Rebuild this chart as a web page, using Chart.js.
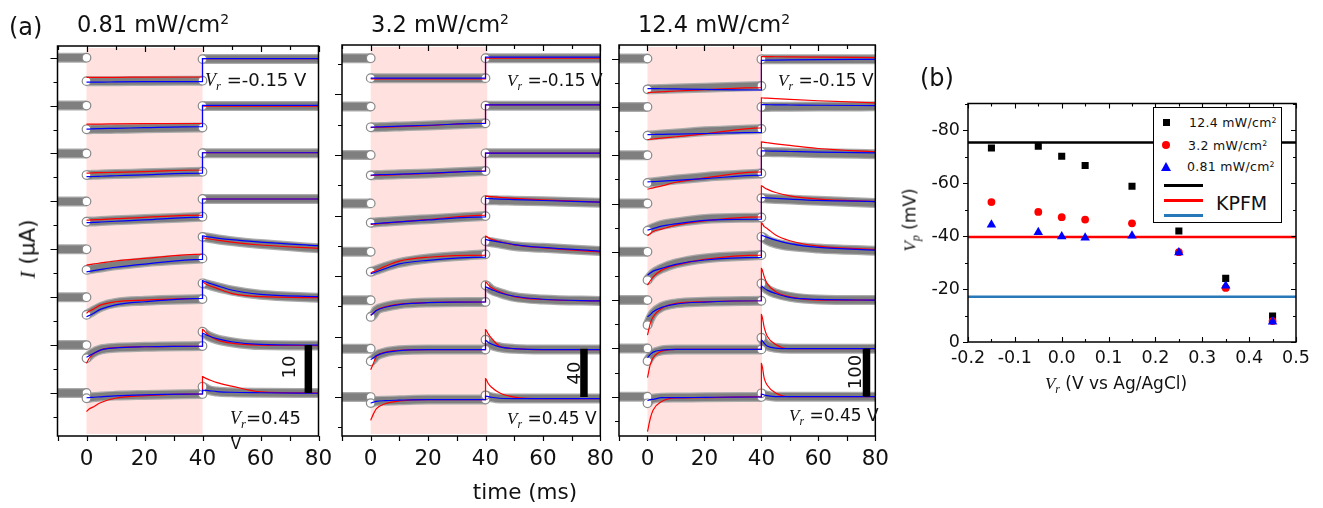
<!DOCTYPE html>
<html>
<head>
<meta charset="utf-8">
<script src="https://cdn.jsdelivr.net/npm/chart.js@4.4.0/dist/chart.umd.min.js"></script>
<style>
body{margin:0;background:#fff;width:1323px;height:508px;overflow:hidden;position:relative;font-family:'DejaVu Sans',sans-serif;color:#111}
canvas{position:absolute}
.t{position:absolute;white-space:nowrap;line-height:1}
.c{transform:translate(-50%,-50%)}
.l{transform:translate(0,-50%)}
.rot{transform:translate(-50%,-50%) rotate(-90deg)}
.iv{font-family:'Liberation Serif',serif;font-style:italic}
.sb{font-family:'Liberation Serif',serif;font-style:italic;font-size:.7em;position:relative;top:.35em}
.sp{font-size:.62em;position:relative;top:-.55em}
#leg{position:absolute;left:1153px;top:107px;width:127px;height:114px;border:1px solid #000;background:#fff}
#leg div{position:absolute}
.lt{font-size:12.5px;line-height:1;transform:translate(0,-50%);white-space:nowrap;letter-spacing:.3px}
</style>
</head>
<body>
<canvas id="c1" width="320" height="480" style="left:20px;top:0"></canvas>
<canvas id="c2" width="295" height="480" style="left:325px;top:0"></canvas>
<canvas id="c3" width="290" height="480" style="left:605px;top:0"></canvas>
<canvas id="cb" width="428" height="290" style="left:895px;top:90px"></canvas>

<div class="t l" style="left:9px;top:27px;font-size:24px">(a)</div>
<div class="t c" style="left:153px;top:24px;font-size:22.5px">0.81 mW/cm<span class="sp">2</span></div>
<div class="t c" style="left:440px;top:24px;font-size:22.5px">3.2 mW/cm<span class="sp">2</span></div>
<div class="t c" style="left:714px;top:24px;font-size:22.5px">12.4 mW/cm<span class="sp">2</span></div>
<div class="t rot" style="left:28px;top:249px;font-size:21.5px"><span class="iv">I</span> (µA)</div>
<div class="t c" style="left:525px;top:492px;font-size:21.5px">time (ms)</div>

<div class="t l" style="left:205px;top:80px;font-size:18px"><span class="iv">V</span><span class="sb">r</span> =-0.15 V</div>
<div class="t l" style="left:230px;top:418px;font-size:18px"><span class="iv">V</span><span class="sb">r</span>=0.45</div>
<div class="t c" style="left:236px;top:444px;font-size:15px">V</div>
<div class="t l" style="left:507px;top:80px;font-size:17px"><span class="iv">V</span><span class="sb">r</span> =-0.15 V</div>
<div class="t l" style="left:507px;top:418px;font-size:17px"><span class="iv">V</span><span class="sb">r</span> =0.45 V</div>
<div class="t l" style="left:778px;top:80px;font-size:17px"><span class="iv">V</span><span class="sb">r</span> =-0.15 V</div>
<div class="t l" style="left:789px;top:415px;font-size:17px"><span class="iv">V</span><span class="sb">r</span> =0.45 V</div>

<div class="t rot" style="left:289px;top:367px;font-size:18px">10</div>
<div class="t rot" style="left:574px;top:373px;font-size:18px">40</div>
<div class="t rot" style="left:855px;top:372px;font-size:18px">100</div>

<div class="t l" style="left:920px;top:78px;font-size:24px">(b)</div>
<div class="t rot" style="left:910px;top:220px;font-size:17px"><span class="iv">V</span><span class="sb">p</span> (mV)</div>
<div class="t c" style="left:1116px;top:383px;font-size:17px"><span class="iv">V</span><span class="sb">r</span> (V vs Ag/AgCl)</div>

<div id="leg">
  <div style="left:9px;top:11px;width:7px;height:7px;background:#000"></div>
  <div class="lt" style="left:35px;top:15px">12.4 mW/cm<span class="sp">2</span></div>
  <div style="left:8px;top:33px;width:8px;height:8px;border-radius:50%;background:#f00"></div>
  <div class="lt" style="left:34px;top:38px">3.2 mW/cm<span class="sp">2</span></div>
  <div style="left:7px;top:54px;width:0;height:0;border-left:5px solid transparent;border-right:5px solid transparent;border-bottom:9px solid #00f"></div>
  <div class="lt" style="left:33px;top:59px">0.81 mW/cm<span class="sp">2</span></div>
  <div style="left:10px;top:76px;width:39px;height:3px;background:#000"></div>
  <div style="left:10px;top:91px;width:39px;height:3px;background:#f00"></div>
  <div class="lt" style="left:62px;top:95px;font-size:19px;letter-spacing:0">KPFM</div>
  <div style="left:10px;top:106px;width:39px;height:3px;background:#2678b8"></div>
</div>

<script>
// sample times (ms)
var PRE_T = [-10, 0];
var LIGHT_T = [0, 1, 2, 5, 10, 20, 40];
var POST_T = [40, 41, 42, 45, 50, 60, 80];

// trace order: Vr = -0.15, -0.05, 0, 0.05, 0.15, 0.25, 0.35, 0.45 (top to bottom)
var STEP = [10, 40, 100];          // offset between traces (µA)
var BAR = [10, 40, 100];           // scale bar length (µA)
var BAR_T = [76.5, 74.3, 76.9];
var LIGHT_END = [40, 40.6, 40.2];
var Y_MIN = [-8.98, -32.2, -81.4];
var Y_MAX = [72.44, 290.9, 728.2];

// each row: 7 values during light (LIGHT_T) then 7 after (POST_T), relative to the trace baseline
var p1Data = [
  [-4.9,-4.9,-4.9,-4.9,-4.9,-4.85,-4.8, -0.3,-0.3,-0.3,-0.3,-0.3,-0.3,-0.3],
  [-4.95,-4.95,-4.9,-4.9,-4.85,-4.75,-4.6, -0.1,-0.1,-0.1,-0.1,-0.1,-0.1,-0.1],
  [-4.5,-4.5,-4.45,-4.4,-4.3,-4.15,-3.8, 0.05,0.05,0.05,0.05,0.05,0.05,0.05],
  [-4.25,-4.2,-4.2,-4.1,-3.95,-3.7,-3.2, 0.5,0.5,0.5,0.5,0.5,0.5,0.5],
  [-4.3,-4.2,-4.1,-3.8,-3.35,-2.7,-1.9, 2.6,2.5,2.4,2.1,1.7,1.1,0.2],
  [-3.7,-3.35,-3.0,-2.0,-1.2,-0.75,-0.4, 2.9,2.75,2.6,2.1,1.4,0.5,-0.1],
  [-2.75,-2.2,-1.7,-0.9,-0.55,-0.35,-0.2, 2.8,2.3,1.9,1.2,0.6,0.0,-0.1],
  [-1.1,-1.0,-0.9,-0.75,-0.55,-0.4,-0.2, 1.3,1.0,0.65,0.3,0.15,0.05,0]
];
var p1Red = [
  [-4.1,-4.1,-4.1,-4.1,-4.1,-4.05,-4.0, -0.2,-0.2,-0.2,-0.2,-0.2,-0.2,-0.2],
  [-3.85,-3.85,-3.85,-3.85,-3.8,-3.75,-3.7, -0.1,-0.1,-0.1,-0.1,-0.1,-0.1,-0.1],
  [-4.1,-4.1,-4.05,-4.0,-3.95,-3.8,-3.45, 0.15,0.15,0.15,0.15,0.15,0.15,0.15],
  [-3.9,-3.9,-3.85,-3.8,-3.6,-3.35,-2.85, 0.5,0.5,0.5,0.5,0.5,0.5,0.5],
  [-3.3,-3.2,-3.1,-2.85,-2.45,-1.9,-1.0, 2.4,2.3,2.2,1.9,1.5,0.9,0.2],
  [-3.35,-2.9,-2.6,-1.6,-0.95,-0.6,-0.25, 3.25,2.8,2.5,1.85,0.8,0.1,-0.1],
  [-3.8,-2.7,-2.05,-1.0,-0.55,-0.35,-0.2, 3.3,2.7,2.1,1.1,0.4,0.0,-0.1],
  [-3.9,-3.3,-3.0,-2.0,-1.1,-0.55,-0.2, 3.4,3.1,2.85,2.15,1.45,0.25,0]
];
var p1Blue = [
  [-5.1,-5.1,-5.1,-5.1,-5.05,-5.0,-5.0, -0.2,-0.2,-0.2,-0.2,-0.2,-0.2,-0.2],
  [-4.9,-4.9,-4.85,-4.8,-4.75,-4.6,-4.4, 0.05,0.05,0.05,0.05,0.05,0.05,0.05],
  [-4.85,-4.85,-4.8,-4.75,-4.65,-4.45,-4.1, 0.15,0.15,0.15,0.15,0.15,0.15,0.15],
  [-4.45,-4.45,-4.4,-4.3,-4.15,-3.85,-3.3, 0.5,0.5,0.5,0.5,0.5,0.5,0.5],
  [-4.7,-4.6,-4.5,-4.2,-3.75,-3.1,-2.1, 2.8,2.7,2.6,2.35,2.0,1.5,0.75],
  [-4.1,-3.8,-3.5,-2.5,-1.6,-0.95,-0.25, 3.45,3.2,3.0,2.4,1.5,0.6,0.1],
  [-2.55,-2.2,-1.85,-1.0,-0.6,-0.35,-0.2, 2.45,2.2,1.95,1.35,0.7,0.15,0],
  [-1.0,-0.95,-0.9,-0.8,-0.6,-0.4,-0.2, 0.6,0.55,0.5,0.3,0.15,0.05,-0.05]
];

var p2Data = [
  [-16.5,-16.5,-16.5,-16.5,-16.5,-16.5,-16.5, 0,0,0,0,0,0,0],
  [-17.1,-17.0,-17.0,-16.8,-16.4,-15.6,-13.8, 0.8,0.8,0.8,0.8,0.8,0.8,0.8],
  [-16.8,-16.7,-16.6,-16.4,-16.0,-15.2,-13.2, 1.4,1.4,1.4,1.4,1.4,1.4,1.4],
  [-16.0,-15.8,-15.6,-15.1,-14.3,-13.0,-10.5, 2.7,2.7,2.6,2.5,2.2,1.7,0.5],
  [-16.5,-15.8,-15.0,-12.5,-9.1,-5.5,-2.1, 8.8,8.3,7.9,6.8,4.7,3.3,0.6],
  [-13.8,-11.8,-8.3,-5.5,-3.3,-1.9,-1.4, 12.4,11.0,8.8,6.0,2.7,0.6,-0.6],
  [-10.5,-8.5,-5.8,-3.1,-1.4,-0.8,-0.8, 7.4,5.5,3.3,1.1,-0.2,-0.8,-0.8],
  [-5.0,-4.0,-3.3,-3.0,-2.7,-2.1,-2.1, 1.4,0.5,-0.2,-1.3,-1.3,-1.3,-1.3]
];
var p2Red = [
  [-17.1,-17.1,-17.1,-17.1,-17.1,-17.1,-17.1, 0,0,0,0,0,0,0],
  [-17.3,-17.2,-17.2,-17.0,-16.6,-15.7,-13.6, 1.4,1.4,1.4,1.4,1.4,1.4,1.4],
  [-17.0,-16.9,-16.8,-16.6,-16.2,-15.3,-13.0, 1.6,1.6,1.6,1.6,1.6,1.6,1.6],
  [-17.4,-17.2,-17.0,-16.3,-15.2,-13.3,-9.7, 6.0,5.8,5.6,5.0,4.2,3.0,1.1],
  [-17.4,-16.4,-15.3,-12.0,-7.7,-4.5,-2.7, 13.0,11.6,10.5,8.3,5.8,3.3,-0.2],
  [-12.4,-10.5,-8.3,-5.5,-3.3,-1.9,-1.4, 15.1,12.7,10.5,7.0,3.0,0.6,-0.6],
  [-17.4,-11.8,-6.4,-3.1,-1.4,-0.8,-0.8, 15.7,12.0,8.8,1.9,0,-0.8,-0.8],
  [-19.3,-13.7,-9.6,-5.5,-3.3,-2.1,-2.1, 15.2,11.0,8.3,3.3,0,-1.3,-1.3]
];
var p2Blue = [
  [-16.5,-16.5,-16.5,-16.5,-16.5,-16.5,-16.5, 0.8,0.8,0.8,0.8,0.8,0.8,0.8],
  [-16.9,-16.9,-16.8,-16.6,-16.2,-15.4,-13.9, 1.4,1.4,1.4,1.4,1.4,1.4,1.4],
  [-16.6,-16.5,-16.4,-16.2,-15.8,-15.0,-13.3, 1.6,1.6,1.6,1.6,1.6,1.6,1.6],
  [-16.9,-16.8,-16.6,-16.1,-15.2,-13.6,-11.1, 4.1,4.0,3.9,3.6,3.2,2.4,1.1],
  [-18.2,-17.4,-16.5,-14.0,-9.9,-7.0,-4.4, 10.2,9.7,9.3,8.0,6.0,3.6,0.6],
  [-12.4,-10.5,-8.5,-5.8,-3.6,-2.0,-1.4, 11.0,10.0,9.0,6.2,3.3,0.8,-0.6],
  [-9.1,-7.5,-5.8,-3.3,-1.6,-0.8,-0.8, 6.9,5.0,3.9,1.4,0,-0.8,-0.8],
  [-5.0,-4.2,-3.6,-3.0,-2.6,-2.1,-2.1, 0.8,0.3,-0.2,-1.0,-1.3,-1.3,-1.3]
];

var p3Data = [
  [-63.6,-63.4,-63.2,-62.7,-61.9,-60.2,-56.7, -1.4,-1.4,-1.4,-1.4,-1.4,-1.4,-1.4],
  [-59.4,-59.0,-58.5,-57.2,-55.0,-50.5,-45.5, 0,0,0,0.2,0.4,0.7,1.2],
  [-57.3,-56.6,-55.9,-53.8,-50.3,-44.9,-37.9, 6.8,6.7,6.6,6.2,5.5,4.2,2.1],
  [-56.5,-53.0,-50.5,-44.1,-39.3,-32.3,-29.0, 11.2,10.8,10.4,9.5,8.3,5.6,0.8],
  [-58.6,-51.0,-44.7,-34.4,-24.0,-13.7,-6.8, 31.1,28.5,24.2,17.4,11.8,7.0,2.1],
  [-51.8,-37.9,-27.5,-13.9,-6.8,-3.5,-1.4, 34.6,28.0,22.2,13.9,6.8,1.4,0],
  [-26.3,-17.2,-10.4,-4.1,-2.1,-2.1,-2.1, 22.2,11.8,6.2,1.4,-0.6,-0.6,-0.6],
  [-13.7,-6.8,-4.1,-2.1,-1.7,-1.2,-0.5, 7.0,4.0,2.1,0,0,0,0]
];
var p3Red = [
  [-70.4,-70.0,-69.6,-68.6,-67.0,-64.5,-60.0, 4.1,4.0,4.0,3.9,3.7,3.2,2.1],
  [-67.7,-67.0,-66.4,-64.6,-61.8,-56.0,-43.5, 18.6,18.3,18.0,17.0,15.5,12.8,8.3],
  [-70.4,-69.0,-67.5,-63.5,-56.0,-47.0,-34.6, 27.5,26.6,25.8,23.5,20.2,13.9,6.8],
  [-66.9,-62.0,-58.0,-53.0,-44.7,-35.8,-27.5, 36.6,33.0,29.8,22.8,15.9,9.1,4.1],
  [-68.9,-60.0,-51.8,-37.9,-27.5,-15.7,-6.8, 60.0,52.0,48.4,34.6,22.8,11.8,5.0],
  [-72.5,-48.2,-34.6,-17.2,-6.8,-3.5,-1.4, 65.6,48.2,34.6,17.2,6.8,0,0],
  [-60.7,-33.1,-19.3,-5.6,-2.1,-2.1,-2.1, 70.4,42.9,25.5,8.3,-0.6,-0.6,-0.6],
  [-72.5,-44.7,-27.5,-9.9,-2.7,-2.1,0, 69.2,38.1,24.2,7.7,0,0,0]
];
var p3Blue = [
  [-62.1,-62.1,-62.2,-62.4,-62.8,-63.6,-65.0, -3.5,-3.4,-3.3,-3.0,-2.6,-2.0,-1.4],
  [-57.3,-57.2,-57.1,-56.8,-56.2,-55.0,-52.6, 4.8,4.7,4.6,4.3,4.0,3.4,2.7],
  [-55.3,-55.0,-54.7,-53.8,-52.0,-48.5,-41.4, 8.9,8.8,8.7,8.3,7.7,6.5,4.8],
  [-55.1,-53.5,-52.0,-47.0,-42.0,-35.0,-32.3, 12.4,12.0,11.6,10.5,9.0,6.5,4.1],
  [-48.2,-44.0,-40.0,-34.4,-26.1,-17.0,-11.6, 34.6,32.0,30.0,24.2,17.0,9.1,3.5],
  [-34.6,-30.0,-24.2,-15.1,-8.3,-4.0,-1.4, 29.0,24.5,20.7,13.9,5.6,1.4,0],
  [-19.3,-12.4,-7.7,-3.5,-2.1,-2.1,-2.1, 17.2,10.5,4.8,0.6,-0.6,-0.6,-0.6],
  [-8.3,-6.0,-5.4,-2.1,-2.1,-1.4,-0.5, 5.6,3.5,2.1,0,0,0,0]
];

// panel (b)
var VR = [-0.15, -0.05, 0, 0.05, 0.15, 0.25, 0.35, 0.45];
var VP_124 = [-73.2, -73.9, -70.1, -66.6, -58.8, -41.9, -24.0, -9.8];
var VP_32 = [-52.8, -49.1, -47.1, -46.2, -44.8, -33.9, -20.4, -7.9];
var VP_081 = [-44.2, -41.4, -39.8, -39.3, -40.1, -33.8, -21.2, -7.6];
var KPFM = [-75.3, -39.6, -17.1];
var KPFM_COLORS = ['#000000', '#ff0000', '#2678b8'];
var XB = [-0.2, 0.5];

Chart.defaults.font.family = "'DejaVu Sans', sans-serif";
Chart.defaults.color = '#111';

var DATA = [p1Data, p2Data, p3Data];
var RED = [p1Red, p2Red, p3Red];
var BLUE = [p1Blue, p2Blue, p3Blue];
var PADS = [
  {left: 37.5, right: 21.5, top: 46, bottom: 14},
  {left: 17, right: 17, top: 45, bottom: 14},
  {left: 14, right: 16, top: 45, bottom: 14}
];

function pts(ts, vals, off) {
  return ts.map(function (t, i) { return {x: t, y: vals[i] + off}; });
}

function line(data, color, width, order) {
  return {data: data, borderColor: color, borderWidth: width, pointRadius: 0,
    fill: false, cubicInterpolationMode: 'monotone', order: order, borderCapStyle: 'butt'};
}

var panelPlugin = {
  id: 'panelA',
  beforeDatasetsDraw: function (c) {
    var a = c.chartArea, ctx = c.ctx, x = c.scales.x;
    ctx.save();
    ctx.fillStyle = 'rgb(255,226,223)';
    var x0 = x.getPixelForValue(0), x1 = x.getPixelForValue(LIGHT_END[c.options.panel]);
    ctx.fillRect(x0, a.top + 2, x1 - x0, a.bottom - a.top - 4);
    ctx.restore();
  },
  afterDraw: function (c) {
    var a = c.chartArea, ctx = c.ctx, x = c.scales.x, y = c.scales.y;
    var step = STEP[c.options.panel] === 40 ? 50 : STEP[c.options.panel];
    ctx.save();
    ctx.strokeStyle = '#000';
    ctx.lineWidth = 1.5;
    ctx.strokeRect(a.left, a.top, a.right - a.left, a.bottom - a.top);
    ctx.lineWidth = 1.2;
    ctx.beginPath();
    for (var v = Math.ceil(y.min / (step / 2)) * (step / 2); v <= y.max; v += step / 2) {
      var py = Math.round(y.getPixelForValue(v)) + 0.5;
      var len = (Math.round(v / step * 2) % 2 === 0) ? 7 : 4;
      ctx.moveTo(a.left, py); ctx.lineTo(a.left - len, py);
    }
    for (var t = -10; t <= 80; t += 10) {
      var px = Math.round(x.getPixelForValue(t)) + 0.5;
      var tl = (t % 20 === 0) ? 6 : 4;
      ctx.moveTo(px, a.top); ctx.lineTo(px, a.top + tl);
      ctx.moveTo(px, a.bottom); ctx.lineTo(px, a.bottom + 5);
    }
    ctx.stroke();
    ctx.restore();
  }
};

function makePanel(p, id) {
  var ds = [];
  for (var k = 0; k < 8; k++) {
    var off = (7 - k) * STEP[p];
    var d = DATA[p][k], dl = d.slice(0, 7), dp = d.slice(7);
    var segs = [pts(PRE_T, [0, 0], off), pts(LIGHT_T, dl, off), pts(POST_T, dp, off)];
    segs.forEach(function (s) {
      ds.push(line(s, '#ababab', 10, 7));
      ds.push(line(s, '#7f7f7f', 7.5, 6));
    });
    ds.push({data: [{x: 0, y: off}, {x: 0, y: dl[0] + off}, {x: 40, y: dl[6] + off}, {x: 40, y: dp[0] + off}],
      showLine: false, pointRadius: 4.3, pointBackgroundColor: '#fff', pointBorderColor: '#8a8a8a',
      pointBorderWidth: 1.2, order: 5});
    ds.push(line(pts(LIGHT_T.concat(POST_T), RED[p][k], off), '#ff0000', 1.2, 3));
    ds.push(line(pts(LIGHT_T.concat(POST_T), BLUE[p][k], off), '#0000ff', 1.2, 2));
  }
  ds.push({data: [{x: BAR_T[p], y: 0}, {x: BAR_T[p], y: BAR[p]}], borderColor: '#000', borderWidth: 7.5,
    pointRadius: 0, borderCapStyle: 'butt', order: 1});

  new Chart(document.getElementById(id), {
    type: 'line',
    data: {datasets: ds},
    options: {
      panel: p,
      responsive: false,
      animation: false,
      events: [],
      layout: {padding: PADS[p]},
      plugins: {legend: {display: false}, tooltip: {enabled: false}},
      scales: {
        x: {
          type: 'linear', min: -10, max: 80,
          grid: {display: false, tickLength: 5},
          border: {display: false},
          afterFit: function (s) { s.height = 30; },
          ticks: {stepSize: 10, autoSkip: false, maxRotation: 0, padding: 6,
            font: {size: 21.5}, color: '#111',
            callback: function (v) { return v % 20 === 0 ? String(v) : ''; }}
        },
        y: {type: 'linear', display: false, min: Y_MIN[p], max: Y_MAX[p]}
      }
    },
    plugins: [panelPlugin]
  });
}

makePanel(0, 'c1');
makePanel(1, 'c2');
makePanel(2, 'c3');

// panel (b)
var frameB = {
  id: 'frameB',
  afterDraw: function (c) {
    var a = c.chartArea, ctx = c.ctx, x = c.scales.x, y = c.scales.y;
    ctx.save();
    ctx.strokeStyle = '#000';
    ctx.lineWidth = 1.5;
    ctx.strokeRect(a.left, a.top, a.right - a.left, a.bottom - a.top);
    ctx.lineWidth = 1.1;
    ctx.beginPath();
    for (var v = -90; v <= 0; v += 10) {
      var py = Math.round(y.getPixelForValue(v)) + 0.5;
      var len = (v % 20 === 0) ? 5 : 3;
      ctx.moveTo(a.left, py); ctx.lineTo(a.left - len, py);
      ctx.moveTo(a.right, py); ctx.lineTo(a.right - len, py);
    }
    for (var i = 0; i <= 14; i++) {
      var t = XB[0] + i * 0.05;
      var px = Math.round(x.getPixelForValue(t)) + 0.5;
      var tl = (i % 2 === 0) ? 5 : 3;
      ctx.moveTo(px, a.top); ctx.lineTo(px, a.top + tl);
      ctx.moveTo(px, a.bottom); ctx.lineTo(px, a.bottom - tl);
    }
    ctx.stroke();
    ctx.restore();
  }
};

function markers(vals, style, r, color, order) {
  return {data: VR.map(function (v, i) { return {x: v, y: vals[i]}; }), showLine: false,
    pointStyle: style, pointRadius: r, pointBackgroundColor: color, pointBorderColor: color,
    pointBorderWidth: 0, order: order};
}

var bSets = [
  markers(VP_081, 'triangle', 5.5, '#0000ff', 1),
  markers(VP_32, 'circle', 3.9, '#ff0000', 2),
  markers(VP_124, 'rect', 5, '#000000', 3)
];
KPFM.forEach(function (k, i) {
  bSets.push({data: [{x: XB[0], y: k}, {x: XB[1], y: k}], borderColor: KPFM_COLORS[i],
    borderWidth: 2.6, pointRadius: 0, order: 4});
});

new Chart(document.getElementById('cb'), {
  type: 'line',
  data: {datasets: bSets},
  options: {
    responsive: false,
    animation: false,
    events: [],
    layout: {padding: {left: 23, right: 27, top: 10, bottom: 8}},
    plugins: {legend: {display: false}, tooltip: {enabled: false}},
    scales: {
      x: {
        type: 'linear', min: XB[0], max: XB[1],
        grid: {display: false, tickLength: 0},
        border: {display: false},
        afterFit: function (s) { s.height = 30; },
        ticks: {stepSize: 0.05, autoSkip: false, maxRotation: 0, padding: 6, font: {size: 17.5}, color: '#111',
          callback: function (v) { var n = Math.round(v * 100); return n % 10 === 0 ? (n / 100).toFixed(1) : ''; }}
      },
      y: {
        type: 'linear', min: -90, max: 0, reverse: true,
        grid: {display: false, tickLength: 5},
        border: {display: false},
        afterFit: function (s) { s.width = 50; },
        ticks: {stepSize: 10, autoSkip: false, padding: 3, font: {size: 17.5}, color: '#111',
          callback: function (v) { return v % 20 === 0 ? String(v) : ''; }}
      }
    }
  },
  plugins: [frameB]
});
</script>
</body>
</html>
